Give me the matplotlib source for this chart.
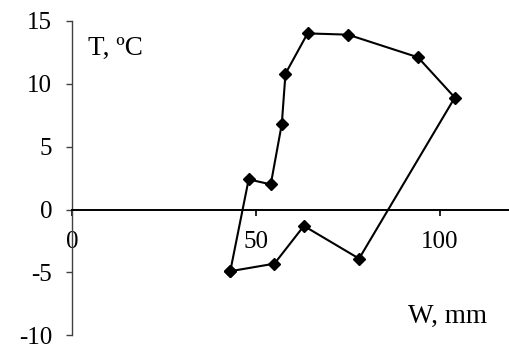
import matplotlib.pyplot as plt

# moisture loop: W (mm) vs T (degC), closed path
w_mm = [43, 48, 54, 57, 58, 64, 75, 94, 104, 78, 63, 55, 43]
t_c = [-4.9, 2.4, 2.0, 6.8, 10.8, 14.0, 13.9, 12.1, 8.9, -3.9, -1.3, -4.3, -4.9]

x_ticks = [0, 50, 100]
y_ticks = [-10, -5, 0, 5, 10, 15]

plt.rcParams['font.family'] = ['Liberation Serif', 'DejaVu Serif']
plt.rcParams['axes.unicode_minus'] = False

fig = plt.figure(figsize=(5.10, 3.47), dpi=100)
ax = fig.add_axes([0.1412, 0.0335, 0.866, 0.9065])

ax.plot(w_mm, t_c, color='black', lw=1.5, marker='D', ms=6, clip_on=False)

ax.set_xlim(0, 120)
ax.set_ylim(-10, 15)
ax.set_xticks(x_ticks)
ax.set_yticks(y_ticks)

ax.spines['top'].set_visible(False)
ax.spines['right'].set_visible(False)
ax.spines['bottom'].set_position(('data', 0))
ax.spines['bottom'].set_linewidth(1.4)
ax.spines['left'].set_linewidth(1.0)
ax.spines['left'].set_color('#404040')

ax.tick_params(axis='x', direction='out', length=4.3, width=1.2, pad=11, labelsize=18)
ax.tick_params(axis='y', direction='out', length=4.3, width=1.0, pad=10, labelsize=18,
               color='#404040')

ax.text(4.3, 12.8, 'T, ºC', fontsize=19.5, ha='left', va='center')
ax.text(91.3, -8.5, 'W, mm', fontsize=19.5, ha='left', va='center')

fig.savefig('out.png', dpi=100)
